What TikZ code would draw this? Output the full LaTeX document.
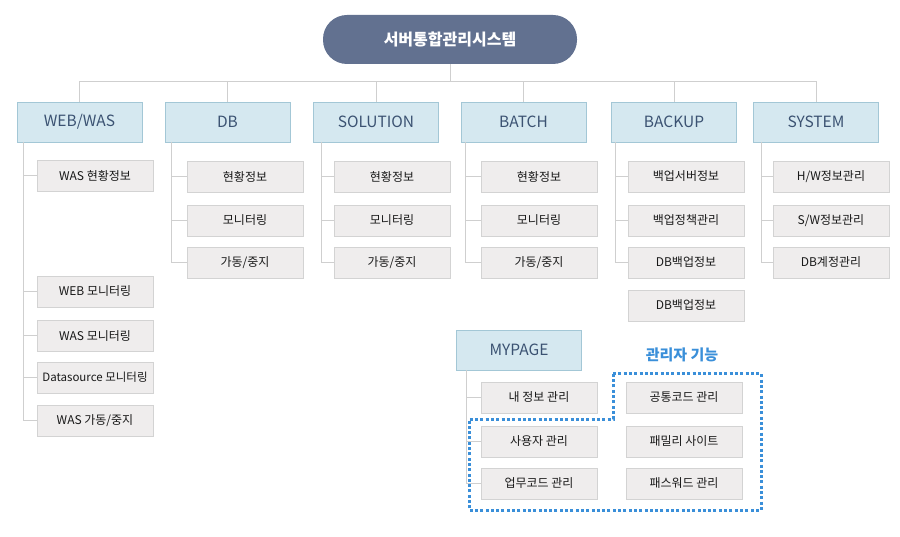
\documentclass[tikz,border=0pt]{standalone}
\usepackage{fontspec}
\setmainfont{Noto Sans CJK KR}
\usepackage{tikz}
\usetikzlibrary{positioning, calc}
\definecolor{topblue}{HTML}{627190}
\definecolor{catfill}{HTML}{D5E8F0}
\definecolor{catline}{HTML}{A3C7D6}
\definecolor{cattext}{HTML}{3B5272}
\definecolor{subfill}{HTML}{EFEDED}
\definecolor{subline}{HTML}{D3D3D3}
\definecolor{linegray}{HTML}{CFCFCF}
\definecolor{adminblue}{HTML}{3A8FD9}

\begin{document}
\begin{tikzpicture}[x=1pt, y=-1pt,
    topbox/.style={rounded corners=24pt, fill=topblue, minimum width=254pt, minimum height=49pt, inner sep=0pt, text=white, font=\bfseries\fontsize{16}{16}\selectfont},
    catbox/.style={draw=catline, fill=catfill, minimum width=125pt, minimum height=40pt, inner sep=0pt, text=cattext, font=\fontsize{15.5}{16}\selectfont},
    subbox/.style={draw=subline, fill=subfill, minimum width=116pt, minimum height=31pt, inner sep=0pt, text=black!90, font=\fontsize{12}{12}\selectfont},
    branch/.style={draw=linegray, line width=1pt}]
    \useasboundingbox (0,0) rectangle (900,537);
    % Root
    \node[topbox] (root) at (450,39.5) {서버통합관리시스템};
    \coordinate (bus) at (450,82);
    % Categories
    \node[catbox] (web) at (79.5,122) {WEB/WAS};
    \node[catbox] (db) at (227.5,122) {DB};
    \node[catbox] (sol) at (376,122) {SOLUTION};
    \node[catbox] (batch) at (523.5,122) {BATCH};
    \node[catbox] (backup) at (674,122) {BACKUP};
    \node[catbox] (sys) at (816,122) {SYSTEM};
    \draw[branch] (root.south) -- (bus);
    \foreach \c in {web,db,sol,batch,backup,sys} {
        \draw[branch] (\c.north) |- (bus);
    }
    % WEB/WAS items
    \node[subbox] (web1) at (95,175.5) {WAS 현황정보};
    \node[subbox] (web2) at (95,291.5) {WEB 모니터링};
    \node[subbox] (web3) at (95,336) {WAS 모니터링};
    \node[subbox, font=\fontsize{11.5}{12}\selectfont] (web4) at (95,377.5) {Datasource 모니터링};
    \node[subbox] (web5) at (95,420.5) {WAS 가동/중지};
    \foreach \i in {1,...,5} {
        \draw[branch] ([xshift=7pt]web.south west) |- (web\i.west);
    }
    % DB items
    \node[subbox] (db1) at (245,176.5) {현황정보};
    \node[subbox] (db2) at (245,220.5) {모니터링};
    \node[subbox] (db3) at (245,262.5) {가동/중지};
    % SOLUTION items
    \node[subbox] (sol1) at (392,176.5) {현황정보};
    \node[subbox] (sol2) at (392,220.5) {모니터링};
    \node[subbox] (sol3) at (392,262.5) {가동/중지};
    % BATCH items
    \node[subbox] (batch1) at (539,176.5) {현황정보};
    \node[subbox] (batch2) at (539,220.5) {모니터링};
    \node[subbox] (batch3) at (539,262.5) {가동/중지};
    % BACKUP items
    \node[subbox] (backup1) at (686,176.5) {백업서버정보};
    \node[subbox] (backup2) at (686,220.5) {백업정책관리};
    \node[subbox] (backup3) at (686,262.5) {DB백업정보};
    \node[subbox] (backup4) at (686,305.5) {DB백업정보};
    % SYSTEM items
    \node[subbox] (sys1) at (831,176.5) {H/W정보관리};
    \node[subbox] (sys2) at (831,220.5) {S/W정보관리};
    \node[subbox] (sys3) at (831,262.5) {DB계정관리};
    \foreach \c/\dx in {db/7,sol/8,batch/5,backup/4,sys/8} {
        \foreach \i in {1,2,3} {
            \draw[branch] ([xshift=\dx pt]\c.south west) |- (\c\i.west);
        }
    }
    % MYPAGE
    \node[catbox] (my) at (519,350) {MYPAGE};
    \node[subbox] (my1) at (539,397.5) {내 정보 관리};
    \node[subbox] (my2) at (539,441.5) {사용자 관리};
    \node[subbox] (my3) at (539,483.5) {업무코드 관리};
    \node[subbox] (adm1) at (684,397.5) {공통코드 관리};
    \node[subbox] (adm2) at (684,441.5) {패밀리 사이트};
    \node[subbox] (adm3) at (684,483.5) {패스워드 관리};
    \foreach \i in {1,2,3} {
        \draw[branch] ([xshift=10pt]my.south west) |- (my\i.west);
    }
    % Admin area
    \node[text=adminblue, font=\bfseries\fontsize{15}{15}\selectfont] (admin) at (682,355) {관리자 기능};
    \draw[adminblue, line width=3pt, dash pattern=on 3pt off 2.3pt]
        (613,374) -- (761,374) -- (761,510) -- (469,510) -- (469,419) -- (613,419) -- cycle;
\end{tikzpicture}
\end{document}
